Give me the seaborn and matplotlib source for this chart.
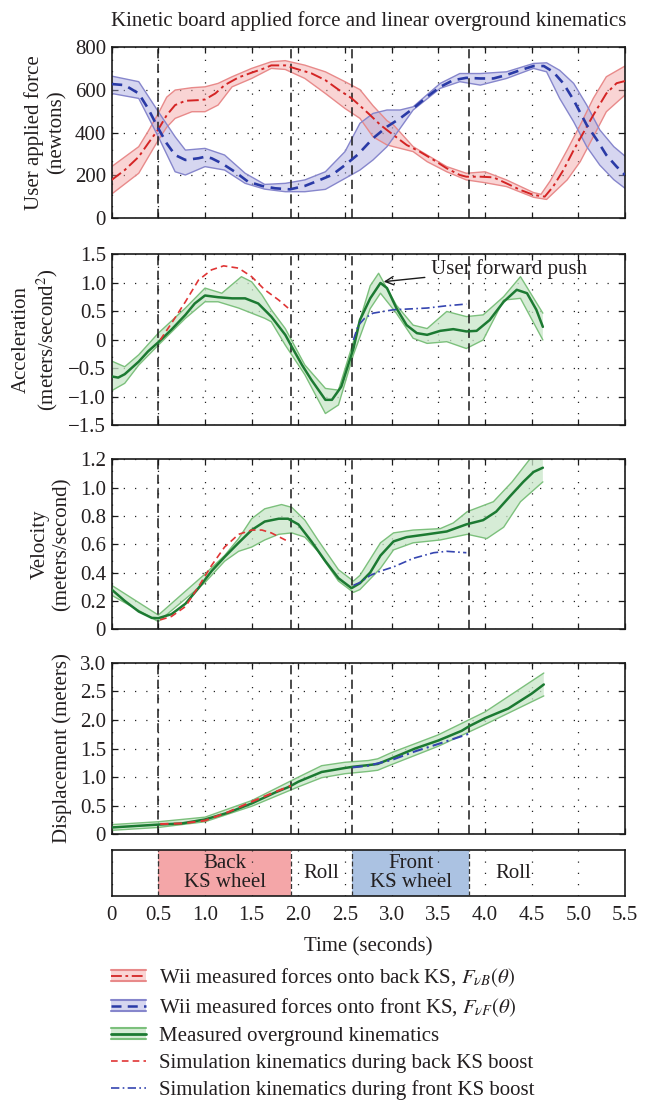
import numpy as np
import matplotlib
matplotlib.use("Agg")
import matplotlib.pyplot as plt
import seaborn as sns
from matplotlib.legend_handler import HandlerBase
from matplotlib.patches import Rectangle, Patch
from matplotlib.lines import Line2D

# ---------------- data ----------------
title = "Kinetic board applied force and linear overground kinematics"
x_ticks = [0, 0.5, 1.0, 1.5, 2.0, 2.5, 3.0, 3.5, 4.0, 4.5, 5.0, 5.5]
x_ticklabels = ["0", "0.5", "1.0", "1.5", "2.0", "2.5", "3.0", "3.5", "4.0", "4.5", "5.0", "5.5"]
phase_bounds = [0.5, 1.92, 2.58, 3.83]
phase_labels = ["Back\nKS wheel", "Roll", "Front\nKS wheel", "Roll"]

# Force panel: back KS (red)
t_rB = [0, 0.14, 0.29, 0.39, 0.5, 0.59, 0.68, 0.79, 0.93, 1.0, 1.11, 1.21, 1.36, 1.5, 1.64, 1.71,
        1.86, 2.0, 2.14, 2.29, 2.43, 2.57, 2.66, 2.77, 2.88, 3.02, 3.16, 3.3, 3.45, 3.59, 3.73, 3.8,
        3.95, 4.09, 4.23, 4.38, 4.52, 4.64, 4.73, 4.84, 4.95, 5.05, 5.16, 5.3, 5.41, 5.5]
f_rB = [179, 225, 287, 349, 415, 481, 528, 548, 551, 554, 582, 621, 657, 679, 700, 713,
        713, 694, 676, 644, 600, 560, 525, 481, 435, 388, 342, 311, 272, 233, 202, 194,
        194, 191, 163, 132, 109, 101, 148, 225, 318, 396, 481, 582, 630, 640]
t_rB_up = [0, 0.29, 0.39, 0.5, 0.59, 0.68, 0.86, 1.0, 1.14, 1.29, 1.5, 1.71, 1.86, 2.07, 2.29, 2.5,
           2.66, 2.8, 2.95, 3.02, 3.23, 3.38, 3.59, 3.8, 4.0, 4.23, 4.52, 4.6, 4.7, 4.88, 5.02,
           5.16, 5.3, 5.5]
f_rB_up = [241, 334, 405, 489, 565, 598, 609, 613, 629, 660, 699, 730, 735, 714, 683, 637,
           600, 525, 455, 435, 334, 295, 241, 210, 217, 179, 120, 112, 175, 318, 435,
           559, 660, 710]
t_rB_lo = [0, 0.29, 0.5, 0.59, 0.68, 0.86, 1.0, 1.14, 1.29, 1.5, 1.71, 1.86, 2.07, 2.29, 2.5, 2.66,
           2.8, 2.95, 3.02, 3.23, 3.38, 3.59, 3.8, 4.0, 4.23, 4.52, 4.66, 4.88, 5.02, 5.16, 5.3, 5.5]
f_rB_lo = [113, 210, 365, 425, 466, 497, 497, 528, 613, 652, 699, 694, 652, 582, 512, 466,
           380, 342, 334, 311, 264, 217, 179, 166, 148, 98, 88, 179, 264, 380, 497, 575]

# Force panel: front KS (blue)
t_bF = [0, 0.14, 0.29, 0.39, 0.5, 0.59, 0.68, 0.79, 0.93, 1.0, 1.07, 1.18, 1.32, 1.46, 1.61, 1.75,
        1.91, 2.07, 2.21, 2.36, 2.5, 2.64, 2.8, 2.95, 3.09, 3.23, 3.38, 3.52, 3.66, 3.8, 3.95, 4.09,
        4.23, 4.38, 4.52, 4.63, 4.73, 4.84, 4.95, 5.09, 5.2, 5.3, 5.41, 5.5]
f_bF = [626, 621, 582, 512, 419, 349, 295, 272, 280, 287, 280, 256, 217, 171, 151, 140,
        135, 151, 175, 202, 248, 298, 373, 427, 466, 512, 567, 613, 644, 655, 652, 652,
        668, 691, 710, 710, 683, 629, 551, 435, 365, 295, 241, 202]
t_bF_up = [0, 0.29, 0.5, 0.68, 0.79, 1.0, 1.21, 1.43, 1.64, 1.86, 2.07, 2.29, 2.5, 2.66, 2.8, 2.95,
           3.09, 3.23, 3.52, 3.73, 3.95, 4.23, 4.52, 4.66, 4.8, 4.95, 5.09, 5.23, 5.38, 5.5]
f_bF_up = [663, 637, 497, 380, 318, 326, 295, 210, 158, 163, 179, 217, 311, 443, 489, 505,
           505, 520, 629, 675, 675, 683, 722, 725, 690, 629, 528, 412, 334, 290]
t_bF_lo = [0, 0.29, 0.5, 0.68, 0.79, 1.0, 1.21, 1.43, 1.64, 1.86, 2.07, 2.29, 2.5, 2.66, 2.8, 2.95,
           3.09, 3.23, 3.52, 3.73, 3.95, 4.23, 4.52, 4.66, 4.8, 4.95, 5.09, 5.23, 5.38, 5.5]
f_bF_lo = [582, 559, 380, 217, 202, 241, 225, 163, 136, 124, 124, 135, 186, 225, 272, 334,
           419, 505, 606, 637, 621, 652, 699, 683, 559, 450, 334, 248, 180, 140]

# Acceleration
t_acc = [0, 0.07, 0.14, 0.29, 0.39, 0.5, 0.64, 0.79, 0.89, 1.0, 1.14, 1.29, 1.43, 1.57, 1.71, 1.86,
         1.93, 2.04, 2.14, 2.29, 2.36, 2.46, 2.59, 2.66, 2.77, 2.88, 2.95, 3.05, 3.16, 3.27, 3.38,
         3.52, 3.66, 3.8, 3.91, 4.05, 4.2, 4.34, 4.45, 4.55, 4.62]
acc = [-0.64, -0.66, -0.60, -0.38, -0.2, -0.04, 0.18, 0.44, 0.64, 0.78, 0.75, 0.73, 0.73, 0.64, 0.41, 0.09,
       -0.12, -0.44, -0.7, -1.05, -1.05, -0.82, -0.15, 0.35, 0.73, 1.0, 0.91, 0.56, 0.26, 0.12, 0.09,
       0.16, 0.19, 0.15, 0.16, 0.35, 0.67, 0.88, 0.82, 0.53, 0.23]
t_acc_up = [0, 0.14, 0.29, 0.5, 0.79, 1.0, 1.18, 1.39, 1.5, 1.61, 1.71, 1.86, 2.07, 2.29, 2.43, 2.59,
            2.77, 2.86, 3.05, 3.23, 3.38, 3.59, 3.8, 3.98, 4.2, 4.38, 4.62]
acc_up = [-0.37, -0.47, -0.26, 0.12, 0.56, 0.91, 0.82, 1.11, 1.02, 0.79, 0.53, 0.2, -0.44, -0.85, -0.88, -0.03,
          0.95, 1.17, 0.61, 0.26, 0.2, 0.5, 0.41, 0.44, 0.76, 1.11, 0.47]
t_acc_lo = [0, 0.14, 0.29, 0.5, 0.79, 1.0, 1.14, 1.36, 1.5, 1.64, 1.71, 1.86, 2.07, 2.29, 2.43, 2.59,
            2.77, 2.88, 3.05, 3.23, 3.38, 3.59, 3.8, 3.98, 4.2, 4.38, 4.62]
acc_lo = [-0.89, -0.76, -0.44, -0.09, 0.38, 0.67, 0.67, 0.56, 0.47, 0.38, 0.32, -0.09, -0.61, -1.29, -1.14, -0.26,
          0.55, 0.82, 0.47, 0.03, -0.06, -0.03, -0.15, 0.0, 0.7, 0.73, 0.0]
t_acc_simB = [0.52, 0.64, 0.79, 0.93, 1.07, 1.2, 1.36, 1.5, 1.64, 1.79, 1.89]
acc_simB = [0.0, 0.29, 0.67, 1.05, 1.23, 1.30, 1.26, 1.11, 0.88, 0.70, 0.56]
t_acc_simF = [2.59, 2.64, 2.71, 2.8, 3.02, 3.38, 3.59, 3.8]
acc_simF = [0.0, 0.25, 0.38, 0.47, 0.53, 0.56, 0.6, 0.63]

# Velocity
t_vel = [0, 0.14, 0.29, 0.43, 0.5, 0.64, 0.79, 0.93, 1.07, 1.21, 1.36, 1.5, 1.64, 1.79, 1.89, 2.0,
         2.14, 2.29, 2.43, 2.57, 2.66, 2.77, 2.88, 3.02, 3.16, 3.38, 3.59, 3.8, 3.98, 4.12, 4.27,
         4.41, 4.52, 4.62]
vel = [0.28, 0.2, 0.125, 0.08, 0.078, 0.106, 0.18, 0.29, 0.41, 0.51, 0.61, 0.70, 0.76, 0.78, 0.78, 0.74,
       0.62, 0.48, 0.36, 0.29, 0.325, 0.40, 0.52, 0.62, 0.65, 0.67, 0.69, 0.74, 0.77, 0.83, 0.94,
       1.04, 1.11, 1.14]
t_vel_up = [0, 0.5, 1.0, 1.21, 1.36, 1.5, 1.64, 1.82, 1.93, 2.07, 2.21, 2.43, 2.59, 2.66, 2.88, 3.02,
            3.23, 3.52, 3.66, 3.81, 4.09, 4.29, 4.48, 4.62]
vel_up = [0.31, 0.10, 0.39, 0.52, 0.64, 0.78, 0.85, 0.88, 0.86, 0.77, 0.63, 0.42, 0.34, 0.38, 0.61, 0.68,
          0.70, 0.71, 0.75, 0.83, 0.90, 1.04, 1.2, 1.22]
t_vel_lo = [0, 0.5, 1.0, 1.21, 1.36, 1.5, 1.64, 1.79, 1.93, 2.07, 2.21, 2.43, 2.59, 2.66, 2.88, 3.02,
            3.23, 3.52, 3.81, 4.02, 4.2, 4.38, 4.62]
vel_lo = [0.24, 0.054, 0.33, 0.48, 0.55, 0.58, 0.63, 0.67, 0.68, 0.65, 0.55, 0.34, 0.26, 0.28, 0.43, 0.56,
          0.61, 0.63, 0.67, 0.64, 0.72, 0.9, 1.04]
t_vel_simB = [0.52, 0.64, 0.79, 0.93, 1.07, 1.21, 1.36, 1.5, 1.61, 1.71, 1.89]
vel_simB = [0.066, 0.09, 0.16, 0.30, 0.45, 0.58, 0.67, 0.70, 0.70, 0.68, 0.62]
t_vel_simF = [2.59, 2.66, 2.77, 2.88, 3.02, 3.23, 3.45, 3.59, 3.8]
vel_simF = [0.31, 0.33, 0.38, 0.41, 0.44, 0.50, 0.54, 0.55, 0.54]

# Displacement
t_dis = [0, 0.5, 0.75, 1.0, 1.25, 1.5, 1.75, 1.9, 2.0, 2.25, 2.5, 2.58, 2.75, 2.85, 3.0, 3.25, 3.5,
         3.75, 3.83, 4.0, 4.25, 4.5, 4.63]
dis = [0.12, 0.17, 0.19, 0.26, 0.38, 0.54, 0.73, 0.83, 0.92, 1.09, 1.16, 1.18, 1.21, 1.23, 1.33, 1.5, 1.64,
       1.81, 1.89, 2.03, 2.2, 2.46, 2.62]
t_dis_band = [0, 0.5, 1.0, 1.5, 2.0, 2.25, 2.5, 2.75, 2.85, 3.0, 3.5, 4.0, 4.63]
dis_up = [0.17, 0.22, 0.30, 0.59, 1.0, 1.2, 1.26, 1.29, 1.32, 1.43, 1.74, 2.14, 2.82]
dis_lo = [0.07, 0.12, 0.22, 0.49, 0.83, 0.99, 1.06, 1.1, 1.12, 1.22, 1.54, 1.92, 2.42]
t_dis_simB = [0.52, 0.75, 1.0, 1.25, 1.5, 1.75, 1.92]
dis_simB = [0.18, 0.19, 0.24, 0.39, 0.57, 0.74, 0.85]
t_dis_simF = [2.58, 2.75, 3.0, 3.25, 3.5, 3.83]
dis_simF = [1.17, 1.2, 1.3, 1.45, 1.58, 1.76]

y_ticks_force = [0, 200, 400, 600, 800]
y_ticks_acc = [-1.5, -1.0, -0.5, 0, 0.5, 1.0, 1.5]
y_ticklabels_acc = ["\u22121.5", "\u22121.0", "\u22120.5", "0", "0.5", "1.0", "1.5"]
y_ticks_vel = [0, 0.2, 0.4, 0.6, 0.8, 1.0, 1.2]
y_ticklabels_vel = ["0", "0.2", "0.4", "0.6", "0.8", "1.0", "1.2"]
y_ticks_dis = [0, 0.5, 1.0, 1.5, 2.0, 2.5, 3.0]
y_ticklabels_dis = ["0", "0.5", "1.0", "1.5", "2.0", "2.5", "3.0"]

legend_labels = [
    r"Wii measured forces onto back KS, $F_{\nu B}(\theta)$",
    r"Wii measured forces onto front KS, $F_{\nu F}(\theta)$",
    "Measured overground kinematics",
    "Simulation kinematics during back KS boost",
    "Simulation kinematics during front KS boost",
]

# ---------------- style ----------------
sns.set_theme(style="ticks")
plt.rcParams["font.family"] = ["Liberation Serif", "DejaVu Serif"]
plt.rcParams["mathtext.fontset"] = "stix"
plt.rcParams["axes.unicode_minus"] = True
TXT = "#231f20"

RED_FILL, RED_EDGE, RED_LINE = "#f2a0a0", "#e88a8a", "#d42424"
BLU_FILL, BLU_EDGE, BLU_LINE = "#a6a6de", "#8686cc", "#2a3aa6"
GRN_FILL, GRN_EDGE, GRN_LINE = "#c9e6c9", "#7cc07c", "#1c7a32"
SIMB, SIMF = "#e03535", "#3545b0"

fig = plt.figure(figsize=(6.47, 11.02), dpi=100)
L, W = 0.1726, 0.7934
ax1 = fig.add_axes([L, 0.8019, W, 0.1557])
ax2 = fig.add_axes([L, 0.6139, W, 0.1552])
ax3 = fig.add_axes([L, 0.4290, W, 0.1543])
ax4 = fig.add_axes([L, 0.2429, W, 0.1557])
ax5 = fig.add_axes([L, 0.1869, W, 0.0417])

FS = 15


def band(ax, tu, up, tl, lo, fill, edge, alpha):
    tu, up, tl, lo = map(np.asarray, (tu, up, tl, lo))
    ax.fill(np.r_[tu, tl[::-1]], np.r_[up, lo[::-1]], color=fill, alpha=alpha, lw=0, zorder=2)
    sns.lineplot(x=tu, y=up, ax=ax, color=edge, lw=1.0, zorder=2.5)
    sns.lineplot(x=tl, y=lo, ax=ax, color=edge, lw=1.0, zorder=2.5)


def style(ax, yticks, yticklabels, ylim, labels_x=False):
    ax.set_xlim(0, 5.5)
    ax.set_ylim(*ylim)
    ax.set_xticks(x_ticks)
    ax.set_xticklabels(x_ticklabels if labels_x else [])
    ax.set_yticks(yticks)
    ax.set_yticklabels(yticklabels)
    ax.tick_params(direction="in", top=True, right=True, length=4, width=0.9,
                   labelsize=FS, colors="k", labelcolor=TXT, pad=4)
    ax.grid(True, linestyle=(0, (1, 8)), color="#222222", lw=0.9)
    for s in ax.spines.values():
        s.set_color("k")
        s.set_linewidth(1.2)
    ax.set_xlabel("")


def vlines(ax):
    for b in phase_bounds:
        ax.axvline(b, color="k", ls=(0, (6, 3.5)), lw=1.1, zorder=3)


# Panel 1: force
band(ax1, t_rB_up, f_rB_up, t_rB_lo, f_rB_lo, RED_FILL, RED_EDGE, 0.45)
band(ax1, t_bF_up, f_bF_up, t_bF_lo, f_bF_lo, BLU_FILL, BLU_EDGE, 0.45)
sns.lineplot(x=t_rB, y=f_rB, ax=ax1, color=RED_LINE, lw=1.4, linestyle=(0, (6, 2, 1.5, 2)), zorder=4)
sns.lineplot(x=t_bF, y=f_bF, ax=ax1, color=BLU_LINE, lw=1.9, linestyle=(0, (4, 2.5)), zorder=4)
vlines(ax1)
style(ax1, y_ticks_force, [str(v) for v in y_ticks_force], (0, 800))
ax1.set_ylabel("User applied force\n(newtons)", fontsize=FS, color=TXT, labelpad=6)
ax1.set_title(title, fontsize=15, color=TXT, pad=15)

# Panel 2: acceleration
band(ax2, t_acc_up, acc_up, t_acc_lo, acc_lo, GRN_FILL, GRN_EDGE, 0.75)
sns.lineplot(x=t_acc, y=acc, ax=ax2, color=GRN_LINE, lw=1.8, zorder=4)
sns.lineplot(x=t_acc_simB, y=acc_simB, ax=ax2, color=SIMB, lw=1.2, linestyle=(0, (4, 2.5)), zorder=4)
sns.lineplot(x=t_acc_simF, y=acc_simF, ax=ax2, color=SIMF, lw=1.2, linestyle=(0, (5, 2, 1, 2)), zorder=4)
vlines(ax2)
style(ax2, y_ticks_acc, y_ticklabels_acc, (-1.5, 1.5))
ax2.set_ylabel("Acceleration\n(meters/second$^2$)", fontsize=FS, color=TXT, labelpad=6)
ax2.annotate("User forward push", xy=(2.9, 1.02), xytext=(3.42, 1.25),
             fontsize=FS, color=TXT, va="center", ha="left",
             arrowprops=dict(arrowstyle="->", color="k", lw=1.0, shrinkA=2, shrinkB=1))

# Panel 3: velocity
band(ax3, t_vel_up, vel_up, t_vel_lo, vel_lo, GRN_FILL, GRN_EDGE, 0.75)
sns.lineplot(x=t_vel, y=vel, ax=ax3, color=GRN_LINE, lw=1.8, zorder=4)
sns.lineplot(x=t_vel_simB, y=vel_simB, ax=ax3, color=SIMB, lw=1.2, linestyle=(0, (4, 2.5)), zorder=4)
sns.lineplot(x=t_vel_simF, y=vel_simF, ax=ax3, color=SIMF, lw=1.2, linestyle=(0, (5, 2, 1, 2)), zorder=4)
vlines(ax3)
style(ax3, y_ticks_vel, y_ticklabels_vel, (0, 1.2))
ax3.set_ylabel("Velocity\n(meters/second)", fontsize=FS, color=TXT, labelpad=6)

# Panel 4: displacement
band(ax4, t_dis_band, dis_up, t_dis_band, dis_lo, GRN_FILL, GRN_EDGE, 0.75)
sns.lineplot(x=t_dis, y=dis, ax=ax4, color=GRN_LINE, lw=1.8, zorder=4)
sns.lineplot(x=t_dis_simB, y=dis_simB, ax=ax4, color=SIMB, lw=1.5, linestyle=(0, (4, 2.5)), zorder=4)
sns.lineplot(x=t_dis_simF, y=dis_simF, ax=ax4, color=SIMF, lw=1.5, linestyle=(0, (5, 2, 1, 2)), zorder=4)
vlines(ax4)
style(ax4, y_ticks_dis, y_ticklabels_dis, (0, 3.0))
ax4.set_ylabel("Displacement (meters)", fontsize=FS, color=TXT, labelpad=6)

# Panel 5: phases
ax5.axvspan(phase_bounds[0], phase_bounds[1], color="#f4a6a8", lw=0, zorder=0.5)
ax5.axvspan(phase_bounds[2], phase_bounds[3], color="#abc2e2", lw=0, zorder=0.5)
for b in phase_bounds:
    ax5.axvline(b, color="#333333", ls=(0, (4, 2)), lw=0.9, zorder=3)
style(ax5, [], [], (0, 1), labels_x=True)
ax5.grid(True, axis="x", linestyle=(0, (1, 8)), color="#222222", lw=0.9)
ax5.tick_params(axis="y", left=False, right=False)
ax5.tick_params(axis="x", length=0, pad=7)
ax5.set_xlabel("Time (seconds)", fontsize=FS, color=TXT, labelpad=9)
mids = [(phase_bounds[0] + phase_bounds[1]) / 2, (phase_bounds[1] + phase_bounds[2]) / 2,
        (phase_bounds[2] + phase_bounds[3]) / 2, 4.3]
for m, lab in zip(mids, phase_labels):
    ax5.text(m, 0.5, lab, ha="center", va="center", fontsize=FS, color=TXT,
             linespacing=0.95, zorder=5)


# ---------------- legend ----------------
class BandHandler(HandlerBase):
    def __init__(self, fill, edge, line, ls, lw, alpha):
        super().__init__()
        self.fill, self.edge, self.line, self.ls, self.lw, self.alpha = fill, edge, line, ls, lw, alpha

    def create_artists(self, legend, orig_handle, xdescent, ydescent, width, height, fontsize, trans):
        x0 = -xdescent
        yc = -ydescent + height / 2
        h = height * 0.75
        rect = Rectangle((x0, yc - h / 2), width, h, facecolor=self.fill, alpha=self.alpha,
                         edgecolor="none", transform=trans)
        top = Line2D([x0, x0 + width], [yc + h / 2] * 2, color=self.edge, lw=1.5, transform=trans)
        bot = Line2D([x0, x0 + width], [yc - h / 2] * 2, color=self.edge, lw=1.5, transform=trans)
        mid = Line2D([x0, x0 + width], [yc] * 2, color=self.line, lw=self.lw, ls=self.ls, transform=trans)
        return [rect, top, bot, mid]


hB, hF, hG = Patch(), Patch(), Patch()
hSB = Line2D([], [], color=SIMB, lw=1.2, ls=(0, (4, 2.5)))
hSF = Line2D([], [], color=SIMF, lw=1.2, ls=(0, (5, 2, 1, 2)))
hmap = {
    hB: BandHandler(RED_FILL, RED_EDGE, RED_LINE, (0, (6, 2, 1.5, 2)), 1.3, 0.45),
    hF: BandHandler(BLU_FILL, BLU_EDGE, BLU_LINE, (0, (4, 2.5)), 1.8, 0.45),
    hG: BandHandler(GRN_FILL, GRN_EDGE, GRN_LINE, "-", 2.0, 0.75),
}
leg = fig.legend([hB, hF, hG, hSB, hSF], legend_labels, handler_map=hmap,
                 loc="upper left", bbox_to_anchor=(0.172, 1 - 966 / 1102),
                 frameon=False, fontsize=15, handlelength=1.65, handleheight=0.75,
                 handletextpad=0.65, labelspacing=0.35, borderaxespad=0, borderpad=0)
for t in leg.get_texts():
    t.set_color(TXT)

fig.savefig("out.png", dpi=100)
